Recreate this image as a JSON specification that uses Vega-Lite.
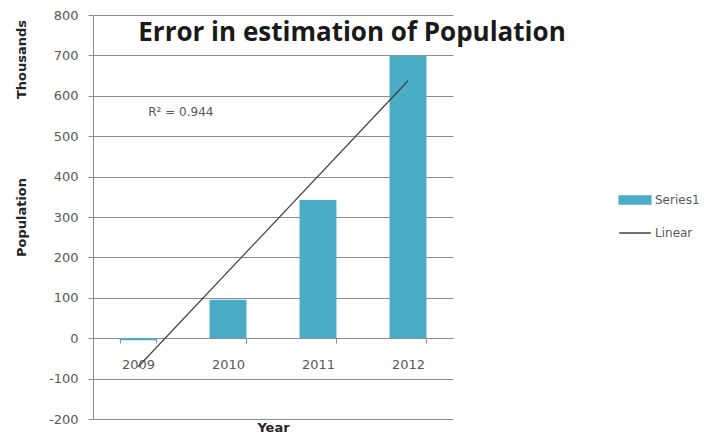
{
  "$schema": "https://vega.github.io/schema/vega-lite/v6.json",
  "width": 360,
  "height": 404,
  "autosize": "none",
  "padding": {"left": 93, "top": 15, "right": 251, "bottom": 17},
  "background": "white",
  "title": {
    "text": "Error in estimation of Population",
    "anchor": "middle",
    "frame": "group",
    "dx": 79,
    "dy": 41,
    "font": "Open Sans",
    "fontSize": 26,
    "fontWeight": "bold",
    "color": "#1a1a1a"
  },
  "data": {
    "values": [
      {"year": 2009, "value": -5},
      {"year": 2010, "value": 95},
      {"year": 2011, "value": 342},
      {"year": 2012, "value": 700}
    ]
  },
  "config": {
    "view": {"stroke": null},
    "axis": {
      "labelFont": "DejaVu Sans",
      "labelFontSize": 13,
      "labelColor": "#595959",
      "titleFont": "DejaVu Sans",
      "titleFontSize": 13,
      "titleFontWeight": "bold",
      "titleColor": "#262626",
      "domainColor": "#8c8c8c",
      "tickColor": "#8c8c8c",
      "gridColor": "#8c8c8c",
      "tickSize": 5
    }
  },
  "layer": [
    {
      "mark": {"type": "bar"},
      "encoding": {
        "x": {
          "field": "year",
          "type": "ordinal",
          "scale": {"paddingInner": 0.59, "paddingOuter": 0.295},
          "axis": {
            "orient": "bottom",
            "offset": -81,
            "labelAngle": 0,
            "tickBand": "extent",
            "labelPadding": 15,
            "title": "Year",
            "titleY": 89,
            "titleBaseline": "middle",
            "grid": false
          }
        },
        "y": {
          "field": "value",
          "type": "quantitative",
          "scale": {"domain": [-200, 800], "nice": false, "zero": false},
          "axis": {
            "orient": "left",
            "values": [-200, -100, 0, 100, 200, 300, 400, 500, 600, 700, 800],
            "labelExpr": "datum.value < 0 ? '-' + abs(datum.value) : '' + datum.value",
            "grid": true,
            "labelPadding": 10,
            "title": "Population",
            "titleX": -72,
            "titleY": 202,
            "titleAngle": 270,
            "titleAlign": "center",
            "titleBaseline": "middle"
          }
        },
        "color": {
          "datum": "Series1",
          "type": "nominal",
          "scale": {"domain": ["Series1", "Linear"], "range": ["#4BACC6", "#404040"]},
          "legend": {
            "orient": "none",
            "legendX": 525,
            "legendY": 168,
            "title": null,
            "padding": 0,
            "rowPadding": 9,
            "symbolSize": 1000,
            "symbolType": "M-1,-0.25H1V0.25H-1Z",
            "labelFont": "DejaVu Sans",
            "labelFontSize": 12,
            "labelColor": "#595959",
            "labelOffset": 3,
            "encode": {
              "symbols": {
                "update": {
                  "shape": {"signal": "datum.value === 'Linear' ? 'M-1,0H1' : 'M-1,-0.25H1V0.25H-1Z'"},
                  "fill": {"signal": "datum.value === 'Linear' ? 'transparent' : '#4BACC6'"},
                  "stroke": {"signal": "datum.value === 'Linear' ? '#404040' : '#4BACC6'"},
                  "strokeWidth": {"value": 1.5},
                  "opacity": {"value": 1}
                }
              }
            }
          }
        }
      }
    },
    {
      "transform": [{"regression": "value", "on": "year"}],
      "mark": {"type": "line", "strokeWidth": 1.2},
      "encoding": {
        "x": {"field": "year", "type": "ordinal"},
        "y": {
          "field": "value",
          "type": "quantitative",
          "axis": {
            "orient": "left",
            "labels": false,
            "ticks": false,
            "domain": false,
            "grid": false,
            "title": "Thousands",
            "titleX": -72,
            "titleY": 44,
            "titleAngle": 270,
            "titleAlign": "center",
            "titleBaseline": "middle"
          }
        },
        "color": {"datum": "Linear", "type": "nominal"}
      }
    },
    {
      "data": {"values": [{"label": "R² = 0.944"}]},
      "mark": {"type": "text", "font": "DejaVu Sans", "fontSize": 12, "color": "#595959", "align": "center", "baseline": "middle"},
      "encoding": {
        "x": {"datum": 2009, "type": "ordinal", "bandPosition": 1.66},
        "y": {"datum": 560, "type": "quantitative", "axis": null},
        "text": {"field": "label"}
      }
    }
  ],
  "resolve": {"axis": {"y": "independent"}}
}
